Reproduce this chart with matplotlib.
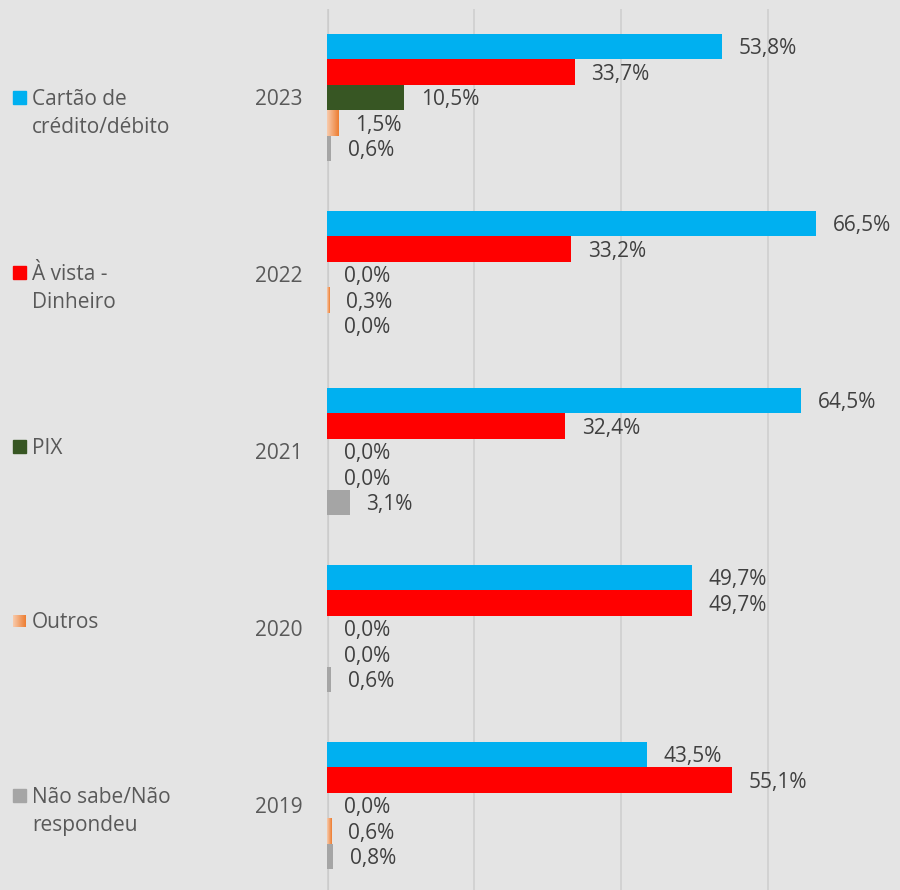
import numpy as np
import matplotlib.pyplot as plt
from matplotlib.patches import Rectangle
from matplotlib.colors import LinearSegmentedColormap

plt.rcParams['font.family'] = ['Open Sans', 'DejaVu Sans']

years = ['2023', '2022', '2021', '2020', '2019']
series = ['Cartão de\ncrédito/débito', 'À vista -\nDinheiro', 'PIX', 'Outros', 'Não sabe/Não\nrespondeu']
cartao = [53.8, 66.5, 64.5, 49.7, 43.5]
vista = [33.7, 33.2, 32.4, 49.7, 55.1]
pix = [10.5, 0.0, 0.0, 0.0, 0.0]
outros = [1.5, 0.3, 0.0, 0.0, 0.6]
nao_sabe = [0.6, 0.0, 3.1, 0.6, 0.8]
values = [cartao, vista, pix, outros, nao_sabe]
colors = ['#00b0f0', '#ff0000', '#375623', '#ed7d31', '#a5a5a5']

bg = '#e4e4e4'
txt = '#595959'
W, H = 900, 890
fs = 15

orange_grad = LinearSegmentedColormap.from_list('o', ['#f8cbad', '#ed7d31'])
grad = np.linspace(0, 1, 64).reshape(1, -1)

fig = plt.figure(figsize=(9, 8.9), dpi=100, facecolor=bg)
ax = fig.add_axes([327 / W, 0, 1 - 327 / W, (H - 9) / H])
ax.set_facecolor(bg)

y = np.arange(len(years))
h = 0.144
for j, (vals, c) in enumerate(zip(values, colors)):
    pos = y + (j - 2) * h
    bars = ax.barh(pos, vals, height=h, color=c, zorder=3)
    if series[j] == 'Outros':
        # gradient fill like the original
        for b in bars:
            if b.get_width() > 0:
                im = ax.imshow(grad, cmap=orange_grad, aspect='auto', zorder=4,
                               extent=[0, b.get_width(), b.get_y() + h, b.get_y()])
                im.set_clip_path(b)
    for p, v in zip(pos, vals):
        ax.annotate(f'{v:.1f}%'.replace('.', ','), (v, p), xytext=(12, -1.5),
                    textcoords='offset points', va='center', ha='left',
                    fontsize=fs, color='#404040', zorder=5)

ax.set_xlim(0, (W - 327) / 7.35)
ax.set_ylim(4.477, -0.5)
ax.set_xticks([0, 20, 40, 60])
ax.grid(axis='x', color='#d2d2d2', linewidth=1.4, zorder=0)
ax.axvline(0, color='#cccccc', linewidth=3, zorder=1)
ax.tick_params(left=False, bottom=False, labelbottom=False, labelleft=False)
for s in ax.spines.values():
    s.set_visible(False)

# year labels
for i, yr in enumerate(years):
    fig.text(303 / W, 1 - (99.5 + 177 * i) / H, yr, ha='right', va='center',
             fontsize=fs, color=txt)

# legend on the left
for i, (name, c) in enumerate(zip(series, colors)):
    yc = 97.5 + 174.5 * i
    if name == 'Outros':
        lax = fig.add_axes([13 / W, 1 - (yc + 6.5) / H, 13 / W, 13 / H])
        lax.imshow(grad, cmap=orange_grad, aspect='auto')
        lax.axis('off')
    else:
        fig.patches.append(Rectangle((13 / W, 1 - (yc + 6.5) / H), 13 / W, 13 / H,
                                     transform=fig.transFigure, color=c, figure=fig))
    for k, line in enumerate(name.split('\n')):
        fig.text(32 / W, 1 - (yc + 2 + 28 * k) / H, line, ha='left', va='center',
                 fontsize=fs, color=txt)

fig.savefig('out.png', dpi=100, facecolor=bg)
